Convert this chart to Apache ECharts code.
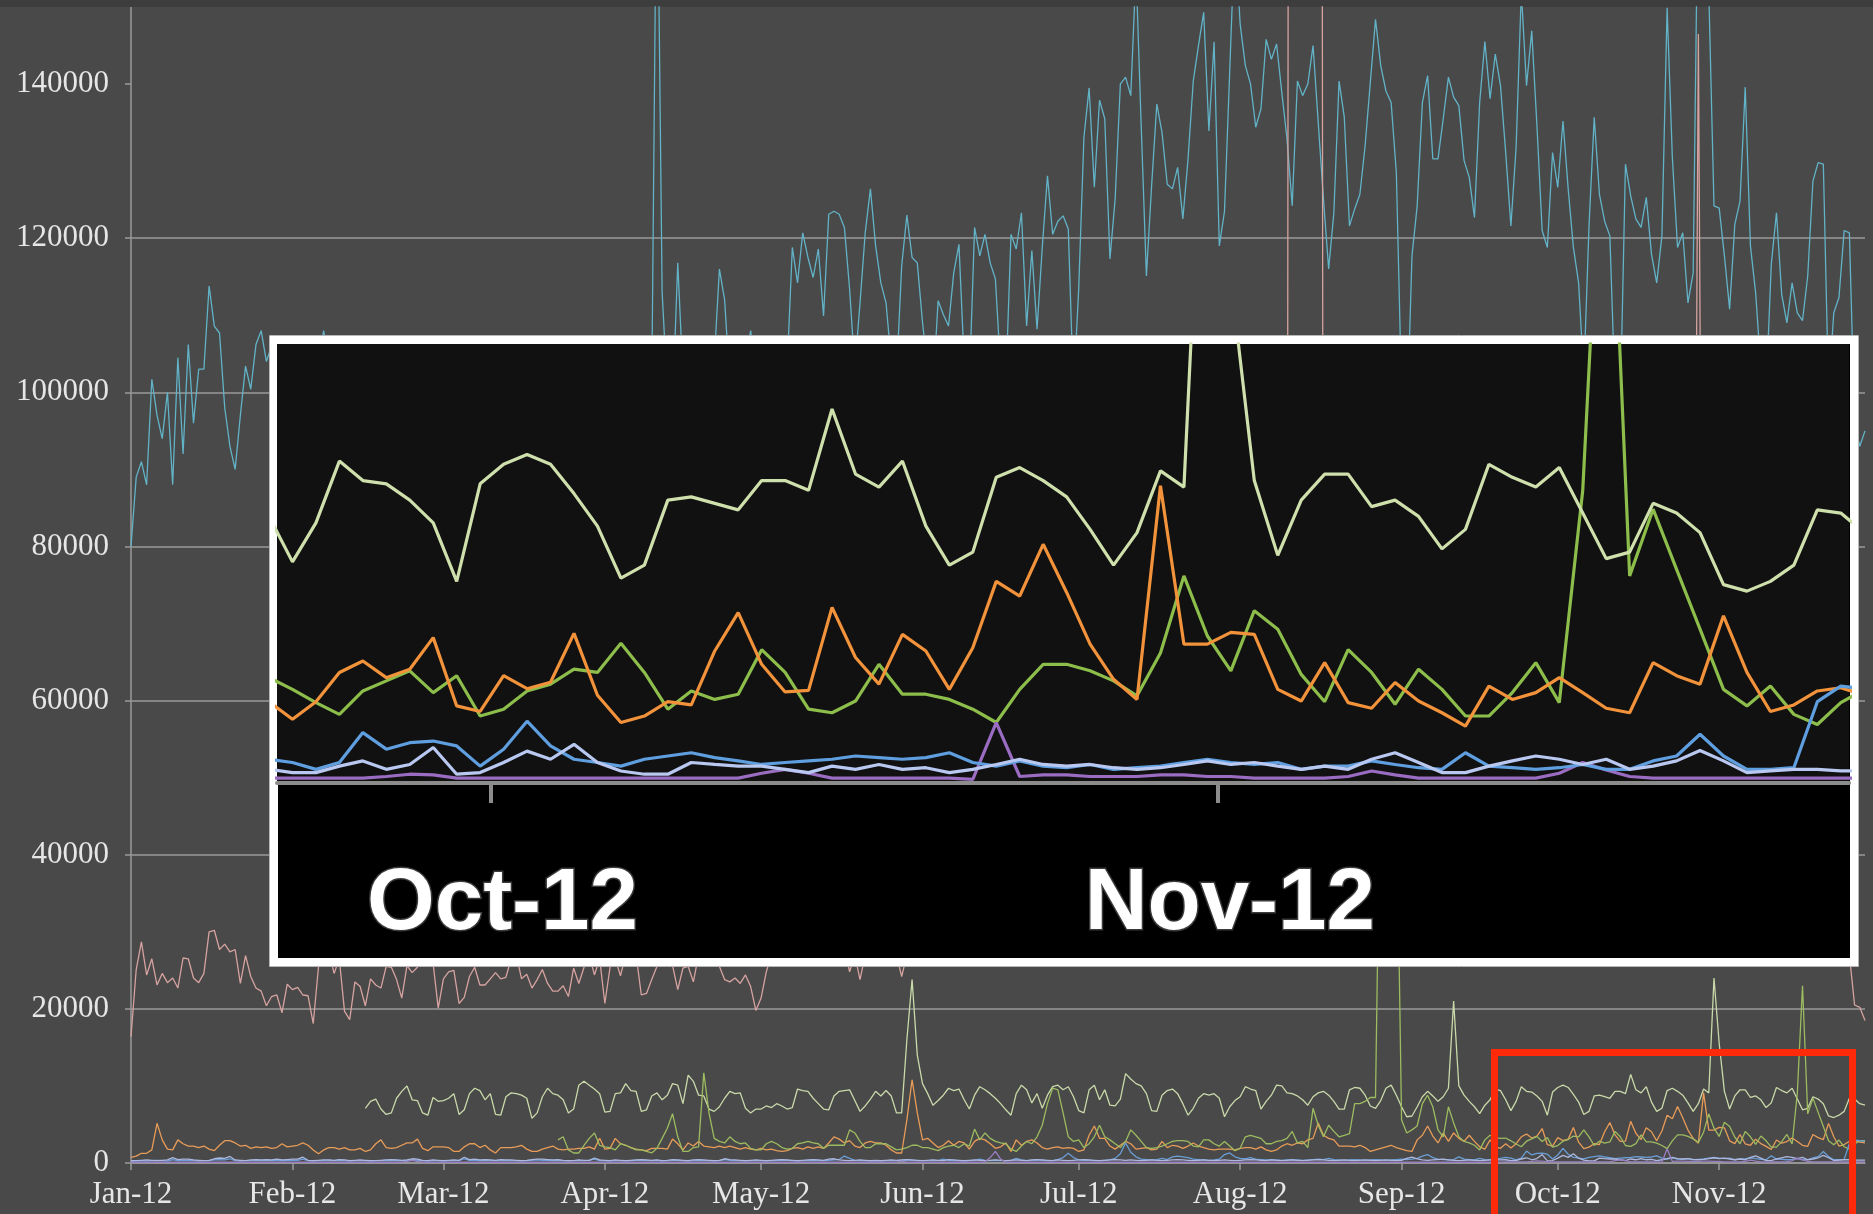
<!DOCTYPE html>
<html><head><meta charset="utf-8">
<script src="https://cdn.jsdelivr.net/npm/echarts@6/dist/echarts.min.js"></script>
<style>html,body{margin:0;padding:0;background:#494949;}#c{width:1873px;height:1214px;}</style>
</head><body><div id="c"></div>
<script>
// ---- categories / ticks ----
const monthLabels = ['Jan-12','Feb-12','Mar-12','Apr-12','May-12','Jun-12','Jul-12','Aug-12','Sep-12','Oct-12','Nov-12'];
const monthDays = [31,29,31,30,31,30,31,31,30,31,29];
const yTickValues = [0,20000,40000,60000,80000,100000,120000,140000];
const insetTickDays = [273.44, 304.44];
const insetTickLabels = ['Oct-12','Nov-12'];

// ---- series values (thousands), one value per day from Jan 1 ----
const cyan = [
80,89,91,88,101.7,97,94,100,88,104.5,
92,106.2,96,103,103,113.8,108.6,107.7,98,93,
90,97,103.4,100.4,106.2,108,104,106,102,98,
95,100,103,99,96,101,104,108,103,99,
97,101,104,100,96,98,102,105,101,97,
99,103,105,100,96,98,102,104,99,95,
97,101,104,100,96,99,103,105,101,97,
99,102,104,100,95,98,102,105,100,96,
99,103,105,101,97,100,103,105,100,96,
99,102,104,100,97,100,103,105,101,98,
100,175,113,100,98,116.8,102,97,100,103,
99,96,104,116,112,101,97,100,104,108,
102,98,101,104,100,97,103,118.8,114.2,120.7,
117.5,114.9,118.6,109.9,123.1,123.5,123.1,121.4,113.4,103,
111.6,120.7,126.4,119,114.2,111.6,104,102,116.4,123,
117.5,116.8,109.1,103,100,111.9,110.1,108.6,115.5,119.2,
104,101,121.4,117.7,120.5,116.8,114.7,103,101,120.5,
118.6,123.3,108.6,118.4,108.2,118.8,128.1,120.5,122.2,122.9,
121.2,100,113.4,133.1,139.5,126.6,137.9,135.5,117.3,125.1,
140,140.9,138.5,155,134.6,115.1,126.8,137.4,133.7,127,
126.4,129.2,122.5,130.3,140.4,145,149.3,133.9,145.5,119,
123.5,141.7,160,147.8,142.4,140,134.4,136.8,145.8,143.2,
145.2,138.9,132.9,124.2,140.4,138.5,140,145,135,125.1,
116,123.3,140.4,135.7,121.6,123.8,125.7,132,140.2,148.4,
142.4,139.1,137.6,128.5,100,95,117.7,124.2,137.6,141.1,
130.3,130.3,135.5,140.9,138.3,137.2,130.1,127.9,122.7,137.6,
145.5,138.1,143.9,139.8,131.1,121.6,131.8,152,139.8,146.9,
134.6,121,118.8,131.1,126.6,135.2,126.4,118.8,114.2,102,
121.6,135.7,125.7,122.2,120.3,100,98,129.6,125.5,122.5,
121.4,125.3,117.9,114.2,120.3,149.9,130.5,118.8,120.7,111.6,
115.5,170,158,152,124.2,123.9,117.7,110.8,121.8,124.8,
139.6,119,112.9,103,100,116.6,123.3,112.7,109,114.2,
110.3,109.3,115.1,127.4,129.8,129.6,100,110.3,112.3,121,
120.7,96,93,95];

const pink = [
16.4,25.1,28.7,24.4,26.5,23.1,24.6,23.4,24.0,22.7,
26.6,26.5,24.0,23.4,24.6,30.0,30.2,27.7,28.4,27.4,
27.7,23.3,26.9,24.2,22.7,22.3,20.4,21.6,21.8,19.5,
23.2,22.5,22.8,21.8,21.7,18.1,25.4,27,27.5,24.6,
26.5,19.7,18.6,23.5,22.9,20.4,23.9,23.1,22.7,25.5,
25.4,23.8,21.4,25.6,24.7,25.4,27,26.5,26,20.1,
23.9,24.8,25.0,20.7,21.5,24.2,25.4,23.1,23.1,23.9,
24.7,23.9,24.1,26.5,27,23.9,24.5,22.7,23.8,25.1,
23.3,22.3,22.3,23.0,21.6,25.3,23.3,25.4,27,24.4,
26.5,20.7,25.4,26.5,24.3,27,27.5,27,21.8,22.0,
23.8,25.5,27,26.5,25.6,22.5,25.3,25.5,23.5,27,
28,27,26.5,25.5,23.8,23.5,24.0,23.3,24.4,22.9,
19.8,21.4,24.8,27,28,29,27,26.5,28,30,
29,27,28,31,29,27,26.5,28,24.8,27,
23.8,27,28,30,29,27,28,27,24.2,27,
29,30,29,28,27,29,31,30,28,27,
29,31,30,28,27,28,30,32,29,27,
28,30,31,29,27,28,29,31,30,28,
27,29,31,32,30,28,27,29,30,31,
29,28,27,29,31,30,28,27,29,30,
32,30,28,27,29,31,30,28,27,29,
30,31,29,28,27,29,31,30,28,27,
29,30,28,600,620,610,615,605,600,29,
31,30,28,27,29,30,31,29,28,27,
29,30,32,31,29,28,27,29,30,31,
29,28,27,28,30,31,30,28,27,29,
30,32,31,29,28,27,29,31,30,28,
27,29,30,31,29,28,27,28,30,31,
30,28,27,29,30,32,31,29,28,27,
29,30,31,29,28,27,29,30,28,27,
29,146.5,30,29,28,27,29,31,30,28,
27,29,30,31,29,28,27,29,30,32,
31,29,28,27,29,30,31,29,28,28,
27,20.5,20.2,18.5];

const N = null;
const light = [
N,N,N,N,N,N,N,N,N,N,
N,N,N,N,N,N,N,N,N,N,
N,N,N,N,N,N,N,N,N,N,
N,N,N,N,N,N,N,N,N,N,
N,N,N,N,N,7.1,8.0,8.3,7.0,6.3,
6.5,8.4,9.3,10.0,8.2,8.1,6.5,6.2,8.5,8.0,
8.1,8.4,9.0,6.3,6.9,9.0,9.7,9.4,8.2,9.0,
6.3,6.2,8.6,9.1,9.0,8.8,8.4,5.8,6.5,8.6,
9.7,9.0,8.8,8.2,6.5,7.0,10.1,10.6,10.1,9.6,
9.0,6.6,6.7,9.0,9.1,10.3,9.4,9.3,6.7,6.9,
8.7,9.1,8.2,8.8,10.3,10.1,7.7,11.4,10.6,8.8,
8.7,7.0,6.7,7.3,8.4,9.3,9.0,9.1,7.1,6.5,
7.0,7.0,7.4,7.2,7.7,7.4,7.0,7.2,9.6,9.4,
9.3,8.4,7.7,7.0,6.9,8.7,9.3,9.4,9.5,8.1,
6.7,7.4,8.3,9.3,8.7,9.4,8.7,6.5,6.5,16,
23.8,14,10.3,9.0,7.5,8.1,8.8,9.7,9.4,9.6,
8.2,7.0,8.8,9.9,9.5,9.0,8.4,7.7,6.9,6.2,
9.0,10.1,9.5,7.8,9.0,7.1,8.8,9.9,10.1,9.5,
9.9,8.6,6.8,6.5,9.5,10.1,8.2,9.5,7.5,7.4,
8.3,11.6,10.9,10.3,10.0,9.0,6.8,6.7,8.8,9.4,
9.6,9.0,7.7,6.2,7.1,8.4,9.0,8.8,9.0,8.4,
6.0,7.3,8.1,8.6,9.9,9.6,9.4,7.0,8.0,8.8,
10.1,10.0,9.1,9.0,8.7,8.2,7.5,8.6,9.1,9.3,
8.8,8.0,7.0,7.0,9.5,9.8,9.7,8.8,7.4,7.1,
8.1,9.7,10.1,8.8,7.3,6.0,6.1,7.3,8.6,9.3,
8.7,8.0,8.6,9.7,21.0,10.0,8.8,8.0,7.3,6.4,
7.5,8.2,9.6,9.4,8.2,6.8,8.0,9.9,9.3,9.2,
8.7,8.0,6.2,9.2,9.8,10.1,9.8,8.9,7.9,6.3,
6.7,8.7,8.8,8.6,8.4,9.3,9.3,9.0,11.5,9.5,
9.1,9.9,7.9,6.7,7.1,9.4,9.7,9.3,8.8,7.8,
6.7,7.7,9.6,9.1,24.0,15.5,9.3,7.0,8.7,9.5,
9.5,8.5,8.7,8.2,7.2,7.8,9.8,9.4,9.1,9.7,
8.3,6.9,7.1,8.6,8.3,7.7,6.1,5.9,6.2,6.7,
8.4,8.3,7.7,7.5];

const orange = [
0.74,0.9,1.26,1.26,1.7,5.15,3.0,1.8,1.7,3.0,
2.5,2.2,2.2,2.0,2.2,1.8,1.6,2.3,2.9,2.9,
2.6,2.2,2.3,1.9,2.1,2.0,2.1,1.9,2.0,2.5,
2.1,2.2,2.3,2.6,2.3,1.7,1.2,1.7,2.0,2.0,
1.8,2.0,1.7,1.7,1.9,1.5,1.7,2.5,3.0,2.0,
1.9,2.0,2.3,2.6,2.6,3.1,1.9,1.6,2.1,2.1,
2.1,2.0,1.5,1.5,2.1,2.5,2.5,2.0,2.3,1.7,
1.3,2.0,2.0,2.0,2.1,2.3,1.8,1.5,1.5,1.8,
2.0,2.2,1.8,1.7,1.8,1.8,1.9,1.9,2.1,1.8,
3.2,1.8,1.9,3.2,2.5,2.3,2.0,1.8,1.7,1.6,
1.9,1.9,1.9,1.8,3.1,2.5,1.7,2.6,2.2,2.8,
2.2,2.1,2.0,2.2,2.0,2.2,2.0,1.8,2.0,1.8,
1.7,1.9,1.7,1.8,1.6,1.5,1.6,1.9,2.0,1.8,
2.1,1.9,2.1,1.9,2.6,3.4,3.1,2.6,2.9,2.2,
2.0,2.6,2.8,2.6,2.6,2.3,1.7,1.3,1.3,5.6,
10.8,6.5,3.0,3.2,2.6,2.0,2.3,2.9,2.3,2.8,
2.6,1.8,2.8,3.2,3.0,2.5,1.9,2.1,2.6,1.5,
3.0,2.3,2.8,3.0,2.6,2.0,1.8,2.0,2.1,1.9,
2.0,1.9,1.5,1.7,3.6,4.8,3.2,3.2,2.2,1.8,
2.3,2.8,2.5,1.8,1.9,2.0,1.7,1.8,2.8,2.0,
2.3,2.2,1.9,2.2,2.6,2.2,2.0,1.8,1.7,1.8,
1.8,1.8,1.7,1.9,2.0,2.0,1.8,2.1,1.7,1.5,
1.7,2.2,2.5,2.3,2.6,2.5,3.0,3.2,5.2,3.6,
3.2,3.0,2.2,2.2,2.2,2.1,2.3,2.0,1.5,1.7,
1.9,2.1,2.3,2.0,1.8,1.6,1.5,3.0,3.6,4.8,
3.5,2.6,3.9,2.8,3.9,3.2,2.8,3.6,2.8,2.1,
1.8,3.0,2.1,1.9,2.5,1.96,2.5,3.4,3.75,3.24,
3.5,4.47,2.37,2.2,3.3,2.9,3.1,4.6,2.7,1.86,
2.06,2.5,2.4,4.06,5.24,3.65,2.8,2.85,5.4,3.86,
3.04,4.57,4.06,2.88,4.16,6.2,5.75,7.34,5.86,4.27,
3.19,2.57,9.14,4.27,4.27,4.63,4.57,2.88,2.52,3.7,
2.47,2.3,3.09,2.52,2.16,1.75,2.98,2.57,2.78,3.24,
2.78,2.3,2.16,3.7,3.3,3.04,5.14,3.4,2.2,2.4,
2.83,2.93,2.7,2.6];

const green = [
N,N,N,N,N,N,N,N,N,N,
N,N,N,N,N,N,N,N,N,N,
N,N,N,N,N,N,N,N,N,N,
N,N,N,N,N,N,N,N,N,N,
N,N,N,N,N,N,N,N,N,N,
N,N,N,N,N,N,N,N,N,N,
N,N,N,N,N,N,N,N,N,N,
N,N,N,N,N,N,N,N,N,N,
N,N,3.0,3.4,1.7,1.3,1.3,2.3,3.2,3.9,
2.3,2.1,2.0,1.7,2.5,2.3,2.0,1.7,1.7,1.5,
1.3,1.9,3.2,4.5,6.4,3.4,1.5,1.5,2.0,2.1,
11.7,6.5,3.2,2.8,2.6,3.4,2.8,2.5,2.6,1.9,
1.7,1.7,2.5,2.8,2.5,2.0,1.8,1.9,2.5,2.6,
2.8,2.6,2.5,1.9,2.3,2.3,2.3,2.3,4.3,3.9,
2.8,2.0,2.0,2.5,2.5,2.5,2.1,1.7,1.8,2.0,
2.3,2.3,2.0,2.0,1.8,1.6,2.0,2.2,2.3,2.0,
2.5,2.2,4.4,3.0,3.9,3.2,2.8,2.6,2.5,1.8,
1.5,2.2,2.8,2.5,3.4,4.9,7.7,9.7,9.5,6.5,
3.4,2.8,3.0,2.0,2.5,3.4,4.9,3.4,3.0,2.5,
2.0,2.8,4.3,3.6,2.8,2.0,1.9,2.0,2.2,2.5,
2.8,2.9,2.9,2.8,2.2,2.1,3.0,3.0,2.5,2.2,
2.8,2.2,1.6,1.9,3.4,3.6,3.4,3.2,2.5,2.5,
2.8,2.9,3.2,4.1,2.6,2.8,2.0,7.1,4.9,3.4,
4.9,4.1,3.4,3.6,3.8,7.7,7.7,8.0,8.5,8.5,
55,62,58,50,5.6,3.9,4.3,4.8,7.7,8.8,
7.3,4.3,3.4,7.3,5.2,3.4,2.8,2.6,2.3,1.7,
3.0,3.6,3.3,3.2,3.24,2.88,2.47,2.11,2.83,3.14,
3.45,2.78,3.3,2.06,2.27,2.83,3.04,3.5,3.4,4.3,
3.4,2.27,2.83,2.57,2.73,4.1,3.4,2.27,2.16,2.52,
3.65,2.73,2.73,2.57,2.27,1.86,2.88,3.65,3.65,3.45,
3.14,2.68,4.0,6.37,4.52,3.45,5.3,4.73,3.34,2.5,
4.1,3.4,2.42,3.5,2.88,2.06,2.06,2.78,3.7,2.47,
9.0,23.0,6.37,8.42,6.57,4.73,2.88,2.37,2.98,2.11,
1.8,2.47,2.88,2.9];

const blue = [
0.2,0.25,0.3,0.25,0.3,0.35,0.3,0.25,0.45,0.3,
0.3,0.35,0.3,0.25,0.3,0.3,0.4,0.45,0.4,0.55,
0.3,0.25,0.3,0.3,0.35,0.3,0.35,0.3,0.35,0.3,
0.3,0.35,0.35,0.5,0.3,0.25,0.3,0.3,0.35,0.3,
0.35,0.3,0.25,0.3,0.3,0.3,0.25,0.3,0.3,0.35,
0.3,0.35,0.3,0.3,0.4,0.35,0.3,0.25,0.3,0.3,
0.25,0.3,0.3,0.3,0.55,0.35,0.35,0.3,0.3,0.35,
0.3,0.35,0.3,0.3,0.3,0.25,0.3,0.35,0.4,0.35,
0.35,0.3,0.35,0.3,0.25,0.3,0.3,0.3,0.35,0.5,
0.3,0.3,0.25,0.3,0.3,0.25,0.3,0.35,0.35,0.3,
0.3,0.35,0.25,0.3,0.35,0.35,0.3,0.25,0.3,0.35,
0.3,0.3,0.25,0.3,0.45,0.35,0.3,0.3,0.25,0.3,
0.3,0.3,0.25,0.3,0.3,0.35,0.35,0.3,0.25,0.3,
0.3,0.35,0.3,0.3,0.35,0.4,0.45,0.9,0.6,0.35,
0.3,0.3,0.25,0.3,0.25,0.3,0.3,0.3,0.35,0.4,
0.35,0.3,0.3,0.3,0.35,0.3,0.5,0.35,0.3,0.3,
0.25,0.3,0.35,0.5,0.35,0.3,0.35,0.3,0.3,0.35,
0.6,0.4,0.3,0.35,0.4,0.35,0.3,0.3,0.45,0.7,
1.25,0.7,0.4,0.35,0.35,0.3,0.3,0.35,0.4,0.6,
1.2,2.6,1.4,0.8,0.5,0.45,0.4,0.45,0.6,0.45,
0.8,0.9,0.8,0.7,0.5,0.45,0.4,0.35,0.4,0.5,
1.1,1.3,0.8,0.6,0.55,0.7,0.5,0.45,0.4,0.45,
0.4,0.35,0.4,0.45,0.4,0.35,0.4,0.45,0.5,0.45,
0.6,0.45,0.4,0.35,0.4,0.45,0.4,0.35,0.4,0.45,
0.4,0.35,0.4,0.45,0.5,0.45,0.5,0.6,0.9,1.1,
0.7,0.5,0.45,0.4,0.45,0.8,0.5,0.45,0.4,0.6,
0.45,0.4,0.5,0.6,0.73,0.63,0.42,0.63,1.55,1.04,
1.24,1.29,1.14,0.52,1.04,1.9,1.14,0.73,0.63,0.52,
0.73,0.83,0.93,0.78,0.68,0.57,0.63,0.68,0.73,0.83,
0.78,0.73,0.78,0.93,0.63,0.52,0.68,0.52,0.47,0.57,
0.42,0.47,0.52,0.63,0.73,0.63,0.57,0.63,0.42,0.52,
0.52,0.68,0.57,0.47,0.42,0.93,0.52,0.47,0.42,0.47,
0.57,0.42,0.42,0.68,0.83,1.5,0.83,0.42,0.42,0.47,
2.5,2.98,2.9,2.8];

const lavender = [
0.3,0.3,0.35,0.4,0.35,0.3,0.35,0.4,0.7,0.45,
0.5,0.5,0.4,0.35,0.3,0.35,0.55,0.65,0.6,0.85,
0.4,0.35,0.3,0.4,0.45,0.4,0.45,0.4,0.5,0.4,
0.45,0.5,0.5,0.75,0.35,0.3,0.35,0.4,0.4,0.35,
0.45,0.4,0.3,0.35,0.4,0.35,0.3,0.3,0.35,0.4,
0.45,0.4,0.35,0.4,0.55,0.5,0.35,0.3,0.4,0.35,
0.3,0.35,0.4,0.35,0.75,0.45,0.5,0.4,0.45,0.4,
0.35,0.45,0.4,0.4,0.35,0.3,0.35,0.45,0.5,0.5,
0.45,0.4,0.45,0.35,0.3,0.3,0.4,0.35,0.35,0.65,
0.4,0.35,0.3,0.4,0.35,0.3,0.35,0.4,0.45,0.4,
0.35,0.4,0.3,0.35,0.45,0.4,0.35,0.3,0.4,0.45,
0.4,0.35,0.3,0.35,0.55,0.45,0.4,0.35,0.3,0.35,
0.4,0.35,0.3,0.35,0.4,0.45,0.4,0.35,0.3,0.35,
0.4,0.45,0.4,0.35,0.5,0.55,0.4,0.35,0.3,0.35,
0.4,0.35,0.3,0.35,0.3,0.35,0.4,0.35,0.4,0.45,
0.4,0.35,0.3,0.35,0.4,0.35,0.3,0.45,0.4,0.35,
0.3,0.35,0.4,0.35,0.3,0.35,0.4,0.35,0.3,0.35,
0.4,0.35,0.3,0.4,0.45,0.4,0.35,0.3,0.4,0.35,
0.3,0.35,0.4,0.45,0.4,0.35,0.3,0.35,0.4,0.45,
0.4,0.35,0.4,0.35,0.3,0.35,0.4,0.35,0.3,0.35,
0.4,0.45,0.4,0.35,0.3,0.35,0.4,0.35,0.3,0.35,
0.4,0.35,0.3,0.35,0.4,0.45,0.4,0.35,0.3,0.4,
0.35,0.3,0.35,0.4,0.35,0.3,0.35,0.4,0.45,0.4,
0.35,0.3,0.35,0.4,0.35,0.3,0.35,0.4,0.35,0.3,
0.35,0.4,0.35,0.3,0.35,0.6,0.75,0.55,0.4,0.35,
0.4,0.45,0.5,0.4,0.35,0.3,0.35,0.4,0.35,0.3,
0.35,0.4,0.45,0.4,0.42,0.32,0.32,0.52,0.68,0.42,
0.57,1.09,0.27,0.32,0.63,0.98,0.73,1.19,0.63,0.37,
0.27,0.27,0.63,0.57,0.52,0.52,0.42,0.32,0.52,0.42,
0.57,0.42,0.47,0.32,0.42,0.57,0.73,0.57,0.52,0.57,
0.47,0.42,0.47,0.57,0.68,0.57,0.63,0.52,0.42,0.52,
0.42,0.73,0.93,0.63,0.32,0.32,0.52,0.68,0.83,0.73,
0.57,0.73,0.42,0.52,0.68,1.0,0.68,0.32,0.37,0.42,
0.42,0.37,0.37,0.37];

const purple = [
0.1,0.1,0.12,0.1,0.1,0.12,0.1,0.1,0.12,0.1,
0.1,0.12,0.1,0.1,0.12,0.1,0.1,0.12,0.1,0.1,
0.12,0.1,0.1,0.12,0.1,0.1,0.12,0.1,0.1,0.12,
0.1,0.1,0.12,0.1,0.1,0.12,0.1,0.1,0.12,0.1,
0.1,0.12,0.1,0.1,0.12,0.1,0.1,0.12,0.1,0.1,
0.12,0.1,0.1,0.2,0.35,0.2,0.1,0.12,0.1,0.1,
0.1,0.12,0.1,0.1,0.12,0.1,0.1,0.12,0.1,0.1,
0.12,0.1,0.1,0.12,0.1,0.1,0.12,0.1,0.1,0.12,
0.1,0.1,0.12,0.1,0.1,0.12,0.1,0.1,0.12,0.1,
0.1,0.12,0.1,0.1,0.12,0.1,0.1,0.12,0.1,0.1,
0.12,0.1,0.1,0.12,0.1,0.1,0.12,0.1,0.1,0.12,
0.1,0.1,0.12,0.1,0.1,0.12,0.1,0.1,0.12,0.1,
0.1,0.12,0.1,0.1,0.12,0.1,0.1,0.12,0.1,0.1,
0.12,0.1,0.1,0.12,0.1,0.1,0.12,0.1,0.1,0.12,
0.1,0.12,0.1,0.1,0.12,0.1,0.1,0.12,0.25,0.1,
0.1,0.1,0.12,0.1,0.1,0.12,0.1,0.1,0.12,0.1,
0.1,0.12,0.1,0.1,0.12,0.7,1.5,0.5,0.1,0.1,
0.12,0.1,0.1,0.12,0.1,0.1,0.12,0.1,0.1,0.12,
0.1,0.1,0.12,0.1,0.1,0.12,0.1,0.1,0.12,0.1,
0.1,0.12,0.1,0.1,0.12,0.1,0.1,0.12,0.1,0.1,
0.12,0.1,0.1,0.12,0.1,0.1,0.12,0.1,0.1,0.12,
0.1,0.1,0.12,0.1,0.1,0.12,0.1,0.1,0.12,0.1,
0.1,0.12,0.1,0.1,0.12,0.1,0.1,0.12,0.1,0.1,
0.12,0.1,0.1,0.12,0.1,0.1,0.12,0.1,0.1,0.12,
0.1,0.1,0.12,0.1,0.1,0.12,0.1,0.1,0.12,0.1,
0.1,0.12,0.1,0.1,0.12,0.1,0.1,0.12,0.1,0.1,
0.12,0.1,0.12,0.12,0.15,0.15,0.15,0.15,0.15,0.2,
0.27,0.25,0.15,0.15,0.15,0.15,0.15,0.15,0.15,0.15,
0.15,0.15,0.15,0.15,0.15,0.3,0.42,0.3,0.15,0.15,
0.15,0.15,0.15,0.15,0.11,1.86,0.2,0.25,0.25,0.2,
0.2,0.2,0.25,0.25,0.2,0.2,0.15,0.15,0.15,0.15,
0.2,0.37,0.25,0.15,0.15,0.15,0.15,0.15,0.15,0.3,
0.63,0.4,0.2,0.15,0.15,0.15,0.15,0.15,0.15,0.15,
0.15,0.15,0.15,0.15];

// ---- build ----
const days = [];
const labelAt = {};
monthDays.forEach((n, m) => {
  for (let d = 1; d <= n; d++) {
    if (d === 1) labelAt[days.length] = monthLabels[m];
    days.push('2012-' + String(m + 1).padStart(2, '0') + '-' + String(d).padStart(2, '0'));
  }
});
const all = {cyan, pink, light, orange, green, blue, lavender, purple};
const bad = Object.keys(all).filter(k => all[k].length !== days.length).map(k => k + ':' + all[k].length);
if (bad.length) throw new Error('length mismatch ' + bad.join(' ') + ' vs ' + days.length);

const mainDefs = [
  ['cyan', '#62b3c7'], ['pink', '#d6a3a0'], ['light', '#c9d9aa'], ['orange', '#e89c58'],
  ['green', '#9dbb60'], ['blue', '#6a9ed6'], ['lavender', '#adb8df'], ['purple', '#9a7fc2']
];
const insetDefs = [
  ['green', '#8dbd4b'], ['orange', '#f2933b'], ['light', '#cfe0ad'],
  ['purple', '#9a6cc2'], ['blue', '#5f9fe0'], ['lavender', '#b9c8f0']
];
const toK = v => (v == null ? null : v * 1000);

const series = [];
mainDefs.forEach(([k, c]) => series.push({
  type: 'line', name: k, xAxisIndex: 0, yAxisIndex: 0,
  data: all[k].map(toK), symbol: 'none', silent: true, z: 2,
  lineStyle: {color: c, width: 1.3}
}));
const insetStart = 262, insetEnd = days.length - 1;
insetDefs.forEach(([k, c]) => {
  const pts = [];
  for (let d = insetStart; d <= insetEnd; d++) pts.push([d, toK(all[k][d])]);
  series.push({
    type: 'line', name: 'inset-' + k, xAxisIndex: 1, yAxisIndex: 1,
    data: pts, symbol: 'none', silent: true, z: 103, clip: true,
    lineStyle: {color: c, width: 3.2}
  });
});

const axisGray = '#9a9a9a';
const labelFont = {color: '#e6e6e6', fontFamily: 'Liberation Serif', fontSize: 31};

const chart = echarts.init(document.getElementById('c'), null, {renderer: 'canvas'});
chart.setOption({
  animation: false,
  backgroundColor: '#494949',
  grid: [
    {left: 131, top: 7, right: 8, bottom: 51, containLabel: false, outerBoundsMode: 'none'},
    {left: 277, top: 344, width: 1572, height: 439, show: true, backgroundColor: '#111111',
     borderWidth: 0, z: 101, containLabel: false, outerBoundsMode: 'none'}
  ],
  xAxis: [
    {type: 'category', gridIndex: 0, data: days, boundaryGap: false,
     axisLine: {lineStyle: {color: axisGray, width: 1.5}},
     axisTick: {interval: (i) => labelAt[i] !== undefined, length: 7, lineStyle: {color: axisGray, width: 1.5}},
     axisLabel: Object.assign({interval: (i) => labelAt[i] !== undefined, formatter: (v, i) => labelAt[i] || '', margin: 16}, labelFont),
     splitLine: {show: false}},
    {type: 'value', gridIndex: 1, min: 264.34, max: 331.35, z: 102,
     axisLine: {show: true, onZero: false, lineStyle: {color: '#8c8c8c', width: 4}},
     axisTick: {show: true, customValues: insetTickDays, length: 20, lineStyle: {color: '#8c8c8c', width: 4}},
     axisLabel: {customValues: insetTickDays, formatter: (v) => (v < 290 ? insetTickLabels[0] : insetTickLabels[1]),
       margin: 79, padding: [0, 0, 0, 24], color: '#ffffff', fontFamily: 'Liberation Sans', fontWeight: 'bold', fontSize: 87,
       textBorderColor: '#3a3a3a', textBorderWidth: 3},
     splitLine: {show: false}},
  ],
  yAxis: [
    {type: 'value', gridIndex: 0, min: 0, max: 150000, interval: 20000,
     axisLine: {show: true, lineStyle: {color: axisGray, width: 1.5}},
     axisTick: {show: true, length: 6, customValues: yTickValues, lineStyle: {color: axisGray, width: 1.5}},
     axisLabel: Object.assign({formatter: (v) => String(v), margin: 22, showMaxLabel: false}, labelFont),
     splitLine: {show: true, showMaxLine: false, lineStyle: {color: axisGray, width: 1.5}}},
    {type: 'value', gridIndex: 1, min: 0, max: 13500, show: false, z: 102}
  ],
  graphic: [
    {type: 'rect', z: 1, silent: true, shape: {x: 0, y: 0, width: 1873, height: 7}, style: {fill: '#3d3d3d'}},
    {type: 'rect', z: 100, silent: true, shape: {x: 274, y: 340, width: 1580, height: 622},
     style: {fill: '#000000', stroke: '#ffffff', lineWidth: 8}},
    {type: 'rect', z: 100, silent: true, shape: {x: 269.5, y: 335.5, width: 1589, height: 631},
     style: {fill: 'none', stroke: '#b8b8b8', lineWidth: 1}},
    {type: 'rect', z: 100, silent: true, shape: {x: 1494.5, y: 1052.5, width: 358, height: 200},
     style: {fill: 'none', stroke: '#ff2a0a', lineWidth: 7}}
  ],
  series: series
});
</script>
</body></html>
